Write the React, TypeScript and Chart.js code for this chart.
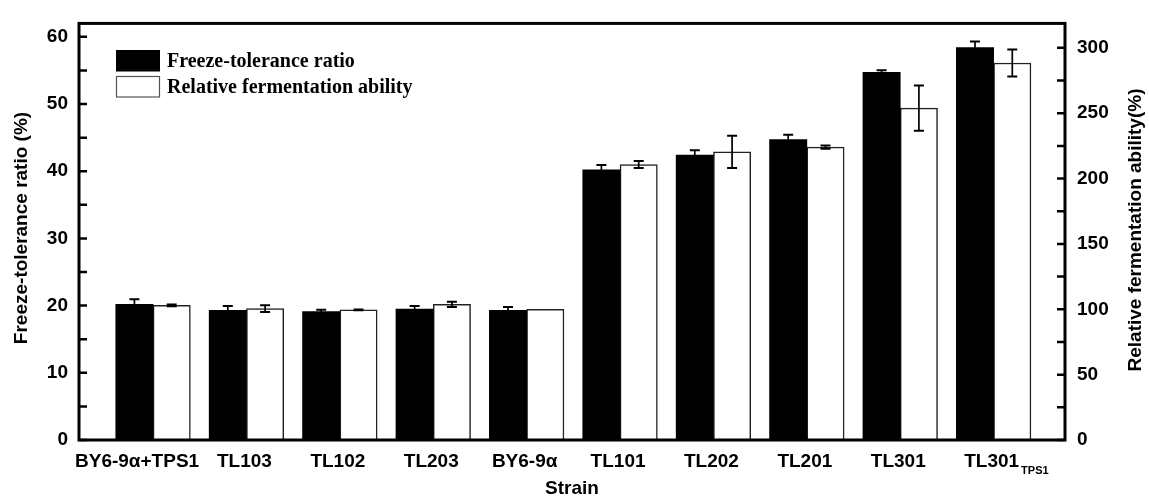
import React, { useEffect, useRef } from 'react';
import { Chart, registerables } from 'chart.js';

Chart.register(...registerables);

// ---- data ----
const strains = ['BY6-9α+TPS1', 'TL103', 'TL102', 'TL203', 'BY6-9α', 'TL101', 'TL202', 'TL201', 'TL301', 'TL301'];
const strainSubscripts = ['', '', '', '', '', '', '', '', '', 'TPS1'];
const freezeTolerance = [20.2, 19.3, 19.1, 19.5, 19.3, 40.2, 42.4, 44.7, 54.7, 58.4];
const freezeToleranceErr = [0.75, 0.65, 0.3, 0.45, 0.5, 0.72, 0.72, 0.72, 0.33, 0.9];
const fermentation = [103, 100.5, 99.5, 103.7, 100, 210.7, 220.4, 224.1, 253.9, 288.4];
const fermentationErr = [0.7, 2.5, 0.3, 2, 0, 2.7, 12.3, 1.2, 17.3, 10.3];
const leftTickValues = [0, 5, 10, 15, 20, 25, 30, 35, 40, 45, 50, 55, 60];
const rightTickValues = [0, 25, 50, 75, 100, 125, 150, 175, 200, 225, 250, 275, 300];
const seriesNames = ['Freeze-tolerance ratio', 'Relative fermentation ability'];
const leftTitle = 'Freeze-tolerance ratio (%)';
const rightTitle = 'Relative fermentation ability(%)';
const xTitle = 'Strain';

const SANS = "'Liberation Sans', Arial, sans-serif";
const SERIF = "'Liberation Serif', 'Times New Roman', serif";

const decorPlugin = {
  id: 'decor',
  afterDatasetsDraw(chart: any) {
    const ctx = chart.ctx;
    const area = chart.chartArea;
    const xs = chart.scales.x;
    const yl = chart.scales.y;
    const yr = chart.scales.y2;

    ctx.save();
    // error bars
    const errs = [freezeToleranceErr, fermentationErr];
    const vals = [freezeTolerance, fermentation];
    [0, 1].forEach((di) => {
      const meta = chart.getDatasetMeta(di);
      const sc = di === 0 ? yl : yr;
      meta.data.forEach((el: any, j: number) => {
        const e = errs[di][j];
        if (!e) return;
        const v = vals[di][j];
        const yt = sc.getPixelForValue(v + e);
        const yb = sc.getPixelForValue(v - e);
        ctx.strokeStyle = '#000';
        ctx.lineWidth = 1.7;
        ctx.beginPath();
        ctx.moveTo(el.x, yt);
        ctx.lineTo(el.x, yb);
        ctx.stroke();
        ctx.lineWidth = 2;
        ctx.beginPath();
        ctx.moveTo(el.x - 5, yt);
        ctx.lineTo(el.x + 5, yt);
        ctx.moveTo(el.x - 5, yb);
        ctx.lineTo(el.x + 5, yb);
        ctx.stroke();
      });
    });

    // frame
    ctx.strokeStyle = '#000';
    ctx.lineWidth = 3;
    ctx.strokeRect(area.left, area.top, area.right - area.left, area.bottom - area.top);

    // ticks
    ctx.lineWidth = 2.5;
    ctx.beginPath();
    leftTickValues.forEach((v) => {
      const y = yl.getPixelForValue(v);
      ctx.moveTo(area.left, y);
      ctx.lineTo(area.left + 8, y);
    });
    rightTickValues.forEach((v) => {
      const y = yr.getPixelForValue(v);
      ctx.moveTo(area.right, y);
      ctx.lineTo(area.right - 8, y);
    });
    ctx.stroke();

    // x labels
    ctx.fillStyle = '#000';
    ctx.textBaseline = 'alphabetic';
    strains.forEach((s, i) => {
      const cx = xs.getPixelForValue(i) + (i === 0 ? -16 : -2);
      ctx.font = `bold 19px ${SANS}`;
      ctx.textAlign = 'center';
      ctx.fillText(s, cx, 467);
      const sub = strainSubscripts[i];
      if (sub) {
        const w = ctx.measureText(s).width;
        ctx.font = `bold 11px ${SANS}`;
        ctx.textAlign = 'left';
        ctx.fillText(sub, cx + w / 2 + 2, 474);
      }
    });
    ctx.font = `bold 19px ${SANS}`;
    ctx.textAlign = 'center';
    ctx.fillText(xTitle, (area.left + area.right) / 2, 494);

    // axis titles
    ctx.textBaseline = 'middle';
    ctx.save();
    ctx.translate(22, 228);
    ctx.rotate(-Math.PI / 2);
    ctx.fillText(leftTitle, 0, 0);
    ctx.restore();
    ctx.save();
    ctx.translate(1136, 230);
    ctx.rotate(-Math.PI / 2);
    ctx.fillText(rightTitle, 0, 0);
    ctx.restore();

    // legend
    ctx.fillStyle = '#000';
    ctx.fillRect(116, 50, 44, 21.5);
    ctx.fillStyle = '#fff';
    ctx.fillRect(116, 76, 44, 21.5);
    ctx.strokeStyle = '#555';
    ctx.lineWidth = 1.2;
    ctx.strokeRect(116.5, 76.5, 43, 20.5);
    ctx.fillStyle = '#000';
    ctx.font = `bold 20px ${SERIF}`;
    ctx.textAlign = 'left';
    ctx.textBaseline = 'middle';
    ctx.fillText(seriesNames[0], 167, 61.5);
    ctx.fillText(seriesNames[1], 167, 87.5);
    ctx.restore();
  },
};

export default function App() {
  const ref = useRef<HTMLCanvasElement | null>(null);
  useEffect(() => {
    if (!ref.current) return;
    const chart = new Chart(ref.current, {
      type: 'bar',
      data: {
        datasets: [
          {
            label: seriesNames[0],
            data: freezeTolerance.map((v, i) => ({ x: i, y: v })),
            backgroundColor: '#000',
            borderWidth: 0,
            barThickness: 37.3,
            yAxisID: 'y',
          },
          {
            label: seriesNames[1],
            data: fermentation.map((v, i) => ({ x: i, y: v })),
            backgroundColor: '#fff',
            borderColor: '#222',
            borderWidth: 1.5,
            barThickness: 37.3,
            yAxisID: 'y2',
          },
        ],
      },
      options: {
        responsive: false,
        devicePixelRatio: 1,
        animation: false,
        layout: { padding: { top: 12, bottom: 58, left: 0, right: 0 } },
        plugins: { legend: { display: false }, tooltip: { enabled: false } },
        scales: {
          x: { type: 'linear', min: -0.793, max: 9.764, offset: false, display: false },
          y: {
            position: 'left',
            min: 0,
            max: 62,
            grid: { display: false, drawTicks: false },
            border: { display: false },
            ticks: {
              stepSize: 10,
              includeBounds: false,
              color: '#000',
              padding: 11,
              font: { family: SANS, weight: 'bold', size: 19 },
            },
            afterFit: (s: any) => { s.width = 79; },
          },
          y2: {
            position: 'right',
            min: 0,
            max: 318.7,
            grid: { display: false, drawTicks: false },
            border: { display: false },
            ticks: {
              stepSize: 50,
              includeBounds: false,
              color: '#000',
              padding: 12,
              font: { family: SANS, weight: 'bold', size: 19 },
            },
            afterFit: (s: any) => { s.width = 84; },
          },
        },
      } as any,
      plugins: [decorPlugin],
    });
    return () => chart.destroy();
  }, []);
  return (
    <div style={{ position: 'fixed', left: 0, top: 0, width: 1149, height: 498, background: '#fff' }}>
      <canvas ref={ref} width={1149} height={498} style={{ display: 'block', width: 1149, height: 498 }} />
    </div>
  );
}
